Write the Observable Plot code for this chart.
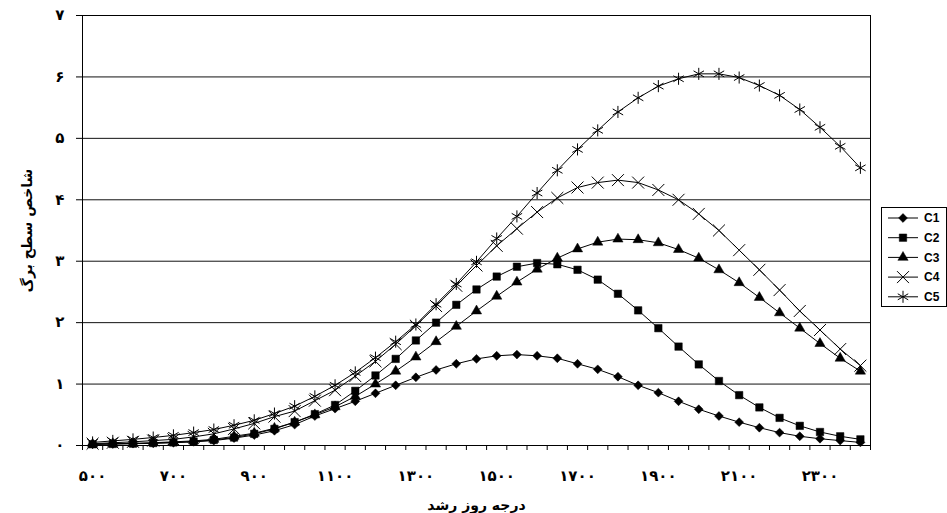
<!DOCTYPE html>
<html>
<head>
<meta charset="utf-8">
<script src="https://cdn.jsdelivr.net/npm/d3@7"></script>
<script src="https://cdn.jsdelivr.net/npm/@observablehq/plot@0.6"></script>
<style>
  html, body { margin: 0; padding: 0; background: #fff; }
  #wrap { position: relative; width: 947px; height: 513px; overflow: hidden; }
  #legend { position: absolute; left: 881px; top: 207px; width: 64px; height: 98px;
            border: 1px solid #000; background: #fff; }
</style>
</head>
<body>
<div id="wrap"></div>
<script>
// Growing degree days (category values)
const gdd = [500,550,600,650,700,750,800,850,900,950,1000,1050,1100,1150,1200,1250,1300,1350,1400,1450,
             1500,1550,1600,1650,1700,1750,1800,1850,1900,1950,2000,2050,2100,2150,2200,2250,2300,2350,2400];
const seriesNames = ["C1","C2","C3","C4","C5"];
const C1 = [0.02,0.025,0.03,0.035,0.045,0.06,0.08,0.12,0.17,0.24,0.34,0.48,0.60,0.72,0.85,0.98,1.11,1.23,1.33,1.41,
            1.46,1.48,1.46,1.42,1.33,1.24,1.12,0.98,0.86,0.72,0.59,0.48,0.38,0.29,0.21,0.15,0.11,0.08,0.05];
const C2 = [0.02,0.025,0.03,0.04,0.05,0.065,0.09,0.13,0.19,0.27,0.38,0.51,0.66,0.89,1.14,1.41,1.71,2.00,2.29,2.54,
            2.75,2.91,2.97,2.95,2.86,2.70,2.47,2.20,1.91,1.61,1.32,1.05,0.82,0.62,0.45,0.32,0.22,0.15,0.10];
const C3 = [0.02,0.03,0.035,0.045,0.06,0.075,0.10,0.15,0.20,0.28,0.38,0.50,0.63,0.80,1.00,1.21,1.44,1.69,1.94,2.19,
            2.43,2.66,2.87,3.05,3.20,3.31,3.36,3.35,3.30,3.19,3.05,2.86,2.65,2.41,2.16,1.91,1.66,1.42,1.21];
const C4 = [0.03,0.045,0.06,0.08,0.10,0.14,0.19,0.27,0.36,0.47,0.56,0.73,0.90,1.13,1.37,1.65,1.95,2.27,2.60,2.93,
            3.25,3.53,3.80,4.03,4.20,4.28,4.32,4.28,4.16,4.00,3.77,3.50,3.18,2.86,2.53,2.19,1.88,1.57,1.30];
const C5 = [0.05,0.075,0.10,0.13,0.165,0.21,0.26,0.33,0.41,0.52,0.64,0.80,0.98,1.19,1.43,1.69,1.97,2.30,2.63,2.99,
            3.37,3.73,4.11,4.48,4.82,5.13,5.43,5.66,5.85,5.97,6.05,6.05,5.99,5.86,5.70,5.47,5.18,4.87,4.52];

const xTickValues = [500,700,900,1100,1300,1500,1700,1900,2100,2300];
const xTickLabels = ["۵۰۰","۷۰۰","۹۰۰","۱۱۰۰","۱۳۰۰","۱۵۰۰","۱۷۰۰","۱۹۰۰","۲۱۰۰","۲۳۰۰"];
const yTickValues = [0,1,2,3,4,5,6,7];
const yTickLabels = ["۰","۱","۲","۳","۴","۵","۶","۷"];
const xTitle = "درجه روز رشد";
const yTitle = "شاخص سطح برگ";

const values = [C1, C2, C3, C4, C5];
const symbols = {C1: "diamond2", C2: "square", C3: "triangle", C4: "times", C5: "asterisk"};
const radius = {C1: 4, C2: 4.2, C3: 3.8, C4: 5.5, C5: 5.7};
const filled = {C1: true, C2: true, C3: true, C4: false, C5: false};

const rows = [];
seriesNames.forEach((s, k) => gdd.forEach((g, i) => rows.push({gdd: g, lai: values[k][i], series: s})));

// category boundaries (tick marks between categories)
const step = gdd[1] - gdd[0];
const bounds = gdd.map(g => g - step / 2).concat([gdd[gdd.length - 1] + step / 2]);

const font = "'DejaVu Sans', sans-serif";

const dotMarks = seriesNames.map(s => Plot.dot(rows.filter(r => r.series === s), {
  x: "gdd", y: "lai", symbol: () => symbols[s], r: radius[s],
  fill: filled[s] ? "#000" : "none", stroke: "#000", strokeWidth: filled[s] ? 0.5 : 1
}));

const chart = Plot.plot({
  width: 947, height: 513,
  marginLeft: 82, marginRight: 77, marginTop: 15, marginBottom: 68,
  style: {fontFamily: font, background: "#fff", overflow: "visible"},
  x: {domain: [bounds[0], bounds[bounds.length - 1]]},
  y: {domain: [0, 7]},
  symbol: {type: "identity"},
  marks: [
    Plot.ruleY(yTickValues.slice(1, -1), {stroke: "#111", strokeWidth: 1}),
    Plot.frame({stroke: "#000", strokeWidth: 1}),
    Plot.axisY(yTickValues, {tickSize: 6, tickPadding: 12, tickFormat: (d, i) => yTickLabels[yTickValues.indexOf(d)],
      fontSize: 15, fontWeight: "bold", fill: "#000",
      label: yTitle, labelAnchor: "center", labelOffset: 60, labelArrow: "none"}),
    Plot.axisX(bounds, {tickSize: 5, tickFormat: () => "", label: null}),
    Plot.axisX(xTickValues, {tickSize: 0, tickPadding: 25, tickFormat: (d) => xTickLabels[xTickValues.indexOf(d)],
      fontSize: 15, fontWeight: "bold", fill: "#000",
      label: xTitle, labelAnchor: "center", labelOffset: 64, labelArrow: "none"}),
    ...seriesNames.map(s => Plot.line(rows.filter(r => r.series === s), {x: "gdd", y: "lai", stroke: "#000", strokeWidth: 1})),
    ...dotMarks
  ]
});
chart.querySelectorAll("text").forEach(t => { t.style.fontWeight = "bold"; });
chart.querySelectorAll("[aria-label='y-axis label'] text, [aria-label='x-axis label'] text").forEach(t => { t.style.fontSize = "14px"; });
document.getElementById("wrap").appendChild(chart);

// Legend
const legend = document.createElement("div");
legend.id = "legend";
const lsvg = d3.create("svg").attr("width", 64).attr("height", 98);
const symMap = {diamond2: d3.symbolDiamond2, square: d3.symbolSquare, triangle: d3.symbolTriangle, times: d3.symbolTimes, asterisk: d3.symbolAsterisk};
seriesNames.forEach((s, i) => {
  const y = 10 + i * 19.7;
  const g = lsvg.append("g").attr("transform", `translate(0,${y})`);
  g.append("line").attr("x1", 6).attr("x2", 36).attr("y1", 0).attr("y2", 0).attr("stroke", "#000");
  const r = radius[s];
  g.append("path").attr("transform", "translate(21,0)")
    .attr("d", d3.symbol(symMap[symbols[s]], Math.PI * r * r)())
    .attr("fill", filled[s] ? "#000" : "none").attr("stroke", "#000").attr("stroke-width", filled[s] ? 0.5 : 1);
  g.append("text").attr("x", 42).attr("y", 0).attr("dy", "0.35em")
    .attr("font-family", "'Liberation Sans', Arial, sans-serif").attr("font-weight", "bold").attr("font-size", 12)
    .text(s);
});
legend.appendChild(lsvg.node());
document.getElementById("wrap").appendChild(legend);
</script>
</body>
</html>
